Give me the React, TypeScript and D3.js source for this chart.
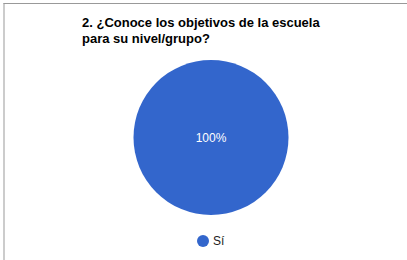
import * as React from "react";
import * as d3 from "d3";

const categories = ["Sí"];
const values = [100];
const colors = ["#3366cc"];
const titleLines = ["2. ¿Conoce los objetivos de la escuela", "para su nivel/grupo?"];

const W = 407;
const H = 260;

export default function App() {
  const ref = React.useRef<SVGSVGElement>(null);

  React.useEffect(() => {
    const svg = d3.select(ref.current);
    svg.selectAll("*").remove();

    // frame (only top and left edges visible)
    svg.append("line").attr("x1", 3.5).attr("x2", W).attr("y1", 3.5).attr("y2", 3.5)
      .attr("stroke", "#999").attr("stroke-width", 1);
    svg.append("line").attr("x1", 4).attr("x2", 4).attr("y1", 3).attr("y2", H)
      .attr("stroke", "#999").attr("stroke-width", 1);

    svg.append("text")
      .attr("font-family", "Arial, 'Liberation Sans', sans-serif")
      .attr("font-size", 13)
      .attr("font-weight", "bold")
      .attr("fill", "#000")
      .selectAll("tspan")
      .data(titleLines)
      .enter()
      .append("tspan")
      .attr("x", 82)
      .attr("y", (d, i) => 27 + i * 16)
      .text((d) => d);

    const cx = 211, cy = 137.5, r = 77.5;
    const total = d3.sum(values);
    const pie = d3.pie<number>().sort(null)(values);
    const arc = d3.arc<d3.PieArcDatum<number>>().innerRadius(0).outerRadius(r);
    const g = svg.append("g").attr("transform", `translate(${cx},${cy})`);
    g.selectAll("path")
      .data(pie)
      .enter()
      .append("path")
      .attr("d", (d) => (d.endAngle - d.startAngle >= 2 * Math.PI - 1e-6
        ? d3.arc()({ innerRadius: 0, outerRadius: r, startAngle: 0, endAngle: 2 * Math.PI })
        : arc(d)) as string)
      .attr("fill", (d, i) => colors[i]);

    g.selectAll("text.lbl")
      .data(pie)
      .enter()
      .append("text")
      .attr("class", "lbl")
      .attr("x", (d) => (pie.length === 1 ? 0 : arc.centroid(d)[0]))
      .attr("y", (d) => (pie.length === 1 ? 0 : arc.centroid(d)[1]))
      .attr("dy", "0.35em")
      .attr("text-anchor", "middle")
      .attr("font-family", "Arial, 'Liberation Sans', sans-serif")
      .attr("font-size", 12)
      .attr("fill", "#fff")
      .text((d) => `${Math.round((d.value / total) * 100)}%`);

    const leg = svg.append("g").attr("transform", "translate(203,241)");
    categories.forEach((c, i) => {
      leg.append("circle").attr("cx", 0).attr("cy", 0).attr("r", 6).attr("fill", colors[i]);
      leg.append("text")
        .attr("x", 10).attr("y", 0).attr("dy", "0.35em")
        .attr("font-family", "Arial, 'Liberation Sans', sans-serif")
        .attr("font-size", 12)
        .attr("fill", "#222")
        .text(c);
    });
  }, []);

  return (
    <svg
      ref={ref}
      width={W}
      height={H}
      style={{ position: "absolute", left: 0, top: 0, background: "#fff" }}
    />
  );
}
